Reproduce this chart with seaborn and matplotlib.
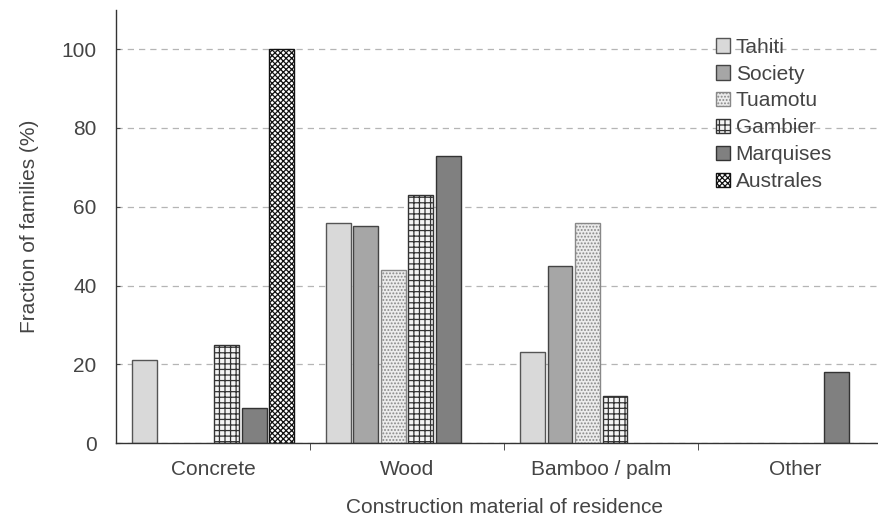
import numpy as np
import pandas as pd
import matplotlib
matplotlib.use("Agg")
import matplotlib.pyplot as plt
import seaborn as sns

materials = ['Concrete', 'Wood', 'Bamboo / palm', 'Other']
islands = ['Tahiti', 'Society', 'Tuamotu', 'Gambier', 'Marquises', 'Australes']
tahiti = [21, 56, 23, 0]
society = [0, 55, 45, 0]
tuamotu = [0, 44, 56, 0]
gambier = [25, 63, 12, 0]
marquises = [9, 73, 0, 18]
australes = [100, 0, 0, 0]

series = [tahiti, society, tuamotu, gambier, marquises, australes]
rows = []
for isl, vals in zip(islands, series):
    for m, v in zip(materials, vals):
        rows.append({'material': m, 'island': isl, 'pct': v})
df = pd.DataFrame(rows)

sns.set_style('white')
plt.rcParams['font.family'] = ['Liberation Sans', 'DejaVu Sans']
plt.rcParams['hatch.linewidth'] = 0.9
txt = '#444444'
fs = 15

fig = plt.figure(figsize=(8.79, 5.17), dpi=100)
ax = fig.add_axes([0.132, 0.143, 0.883, 0.838])

faces = ['#d9d9d9', '#a6a6a6', '#ececec', '#f4f4f4', '#808080', '#ffffff']
hatches = [None, None, '.....', '+++', None, 'xxxxxx']
edges = ['#555555', '#444444', '#888888', '#333333', '#333333', '#111111']

sns.barplot(data=df, x='material', y='pct', hue='island', hue_order=islands,
            order=materials, width=0.85, gap=0.1, ax=ax, legend=True)

for cont, fc, h, ec in zip(ax.containers, faces, hatches, edges):
    for bar in cont:
        bar.set_facecolor(fc)
        bar.set_edgecolor(ec)
        bar.set_linewidth(1.0)
        if h:
            bar.set_hatch(h)
        if bar.get_height() == 0:
            bar.set_visible(False)

ax.set_ylim(0, 110)
ax.set_xlim(-0.5, 3.5)
ax.set_yticks(range(0, 101, 20))
ax.yaxis.grid(True, linestyle=(0, (5, 4)), color='#b5b5b5', linewidth=0.9)
ax.set_axisbelow(True)
for s in ['top', 'right']:
    ax.spines[s].set_visible(False)
for s in ['left', 'bottom']:
    ax.spines[s].set_color('#333333')
    ax.spines[s].set_linewidth(1.0)

ax.set_xticks([0, 1, 2, 3])
ax.set_xticklabels(materials)
ax.set_xticks([0.5, 1.5, 2.5], minor=True)
ax.tick_params(axis='x', which='major', length=0, labelsize=fs, colors=txt, pad=12)
ax.tick_params(axis='x', which='minor', length=5, direction='out', color='#333333', bottom=True)
ax.tick_params(axis='y', length=3, direction='in', left=True, labelsize=fs, colors=txt, pad=14)

ax.set_xlabel('Construction material of residence', fontsize=fs, color=txt, labelpad=14)
ax.set_ylabel('Fraction of families (%)', fontsize=fs, color=txt, labelpad=16)

handles, labels = ax.get_legend_handles_labels()
for hd, fc, h, ec in zip(handles, faces, hatches, edges):
    hd.set_facecolor(fc)
    hd.set_edgecolor(ec)
    if h:
        hd.set_hatch(h)
leg = ax.legend(handles, labels, loc='upper left', bbox_to_anchor=(0.762, 0.955),
                frameon=False, fontsize=fs, handlelength=0.7, handleheight=0.7,
                handletextpad=0.25, labelspacing=0.38, labelcolor=txt,
                borderaxespad=0)

fig.savefig('out.png', dpi=100)
